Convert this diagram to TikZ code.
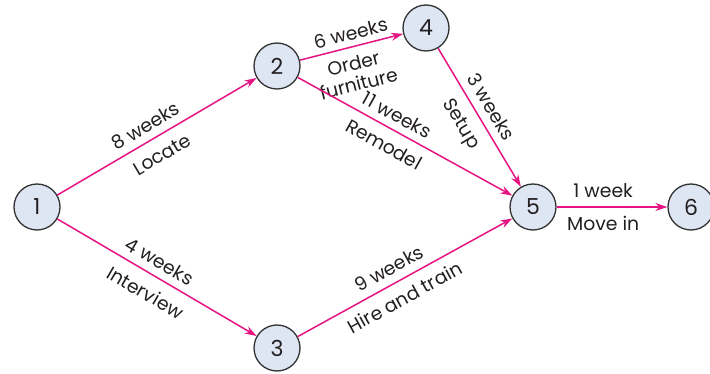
\documentclass[tikz,border=0pt]{standalone}
\usepackage{fontspec}
\setmainfont{Poppins}
\usetikzlibrary{arrows.meta}
\definecolor{mag}{RGB}{230,20,130}
\definecolor{nodefill}{RGB}{222,229,243}
\definecolor{nodeborder}{RGB}{50,50,50}
\definecolor{txt}{RGB}{35,31,32}
\begin{document}
\begin{tikzpicture}[x=1pt,y=-1pt,
  ev/.style={circle, draw=nodeborder, fill=nodefill, line width=1.3pt, minimum size=46pt, inner sep=0pt, font=\fontsize{22}{26}\selectfont, text=txt},
  act/.style={draw=mag, line width=1.5pt, -{Stealth[length=12pt,width=8pt]}},
  lab/.style={sloped, inner sep=0pt, text=txt, font=\fontsize{18.8}{21}\selectfont, text height=13pt, text depth=0pt},
  labm/.style={sloped, inner sep=0pt, text=txt, font=\fontsize{18.8}{21}\selectfont, align=center},
]
\useasboundingbox (0,0) rectangle (710,374);
\node[ev] (n1) at (37,207) {1};
\node[ev] (n2) at (277,66) {2};
\node[ev] (n3) at (277,348) {3};
\node[ev] (n4) at (426,28) {4};
\node[ev] (n5) at (533,207) {5};
\node[ev] (n6) at (691,207) {6};
\draw[act] (n1) -- node[lab, pos=0.48, above=7.5pt]{8 weeks} node[lab, pos=0.48, below=11pt]{Locate} (n2);
\draw[act] (n1) -- node[lab, pos=0.475, above=7.5pt]{4 weeks} node[lab, pos=0.49, below=12pt]{Interview} (n3);
\draw[act] (n2) -- node[lab, pos=0.525, above=6pt]{6 weeks} node[labm, pos=0.48, below=8.5pt]{Order\\furniture} (n4);
\draw[act] (n2) -- node[lab, pos=0.43, above=7.5pt]{11 weeks} node[lab, pos=0.44, below=10pt]{Remodel} (n5);
\draw[act] (n4) -- node[lab, pos=0.478, above=8pt]{3 weeks} node[lab, pos=0.476, below=10.5pt]{Setup} (n5);
\draw[act] (n3) -- node[lab, pos=0.46, above=8pt]{9 weeks} node[lab, pos=0.46, below=10.5pt]{Hire and train} (n5);
\draw[act] (n5) -- node[lab, pos=0.42, above=8.5pt]{1 week} node[lab, pos=0.42, below=9.5pt]{Move in} (n6);
\end{tikzpicture}
\end{document}
